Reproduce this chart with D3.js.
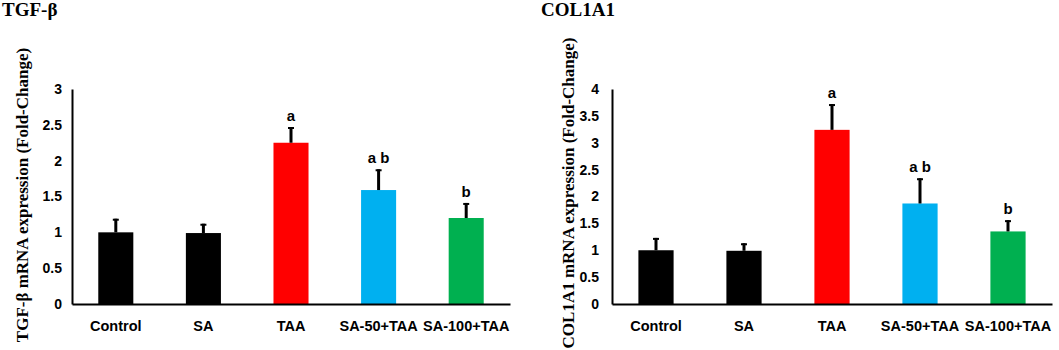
<!DOCTYPE html>
<html>
<head>
<meta charset="utf-8">
<script src="https://cdn.jsdelivr.net/npm/d3@7"></script>
<style>
  body { margin: 0; background: #fff; }
  svg { display: block; }
</style>
</head>
<body>
<script>
const width = 1059;
const height = 350;

const groups = ["Control", "SA", "TAA", "SA-50+TAA", "SA-100+TAA"];
const barColors = ["#000000", "#000000", "#ff0000", "#00b0f0", "#00b050"];
const sigLabels = ["", "", "a", "a b", "b"];

const tgfMean = [1.00, 0.99, 2.25, 1.59, 1.20];
const tgfErr  = [0.19, 0.13, 0.22, 0.29, 0.21];
const tgfTicks = [0, 0.5, 1, 1.5, 2, 2.5, 3];

const colMean = [1.00, 0.99, 3.24, 1.87, 1.35];
const colErr  = [0.23, 0.14, 0.48, 0.47, 0.21];
const colTicks = [0, 0.5, 1, 1.5, 2, 2.5, 3, 3.5, 4];

const svg = d3.select("body").append("svg")
    .attr("width", width)
    .attr("height", height);

function drawPanel(opts) {
    const g = svg.append("g");
    const x = d3.scaleBand()
        .domain(groups)
        .range([opts.x0, opts.x1])
        .paddingInner(0.6)
        .paddingOuter(0.3);
    const y = d3.scaleLinear()
        .domain([0, opts.max])
        .range([304, 89]);

    // title
    g.append("text")
        .attr("x", opts.titleX)
        .attr("y", 16)
        .attr("font-family", "'Liberation Serif', 'Times New Roman', serif")
        .attr("font-weight", "bold")
        .attr("font-size", 19)
        .text(opts.title);

    // y axis title
    g.append("text")
        .attr("transform", `translate(${opts.ylabX},${opts.ylabY}) rotate(-90)`)
        .attr("text-anchor", "middle")
        .attr("font-family", "'Liberation Serif', 'Times New Roman', serif")
        .attr("font-weight", "bold")
        .attr("font-size", 17)
        .text(opts.ylab);

    // bars
    const data = groups.map((d, i) => ({ name: d, v: opts.mean[i], e: opts.err[i], c: barColors[i], s: sigLabels[i] }));

    g.selectAll("rect.bar")
        .data(data)
        .join("rect")
        .attr("class", "bar")
        .attr("x", d => x(d.name))
        .attr("width", x.bandwidth())
        .attr("y", d => y(d.v))
        .attr("height", d => y(0) - y(d.v))
        .attr("fill", d => d.c);

    // error bars (upper only)
    g.selectAll("line.err")
        .data(data)
        .join("line")
        .attr("class", "err")
        .attr("x1", d => x(d.name) + x.bandwidth() / 2)
        .attr("x2", d => x(d.name) + x.bandwidth() / 2)
        .attr("y1", d => y(d.v))
        .attr("y2", d => y(d.v + d.e))
        .attr("stroke", "#000")
        .attr("stroke-width", 3);

    g.selectAll("line.cap")
        .data(data)
        .join("line")
        .attr("class", "cap")
        .attr("x1", d => x(d.name) + x.bandwidth() / 2 - 3)
        .attr("x2", d => x(d.name) + x.bandwidth() / 2 + 3)
        .attr("y1", d => y(d.v + d.e) + 1)
        .attr("y2", d => y(d.v + d.e) + 1)
        .attr("stroke", "#000")
        .attr("stroke-width", 2);

    // significance letters
    g.selectAll("text.sig")
        .data(data)
        .join("text")
        .attr("class", "sig")
        .attr("x", d => x(d.name) + x.bandwidth() / 2)
        .attr("y", d => y(d.v + d.e) - 6)
        .attr("text-anchor", "middle")
        .attr("font-family", "'Liberation Sans', Arial, sans-serif")
        .attr("font-weight", "bold")
        .attr("font-size", 15)
        .text(d => d.s);

    // y axis
    const yAxis = g.append("g")
        .attr("transform", `translate(${opts.x0},0)`)
        .call(d3.axisLeft(y).tickValues(opts.ticks).tickSize(0).tickPadding(opts.tickPad).tickFormat(d3.format("")));
    yAxis.select(".domain").attr("stroke", "#000").attr("stroke-width", 2);
    yAxis.selectAll("text")
        .attr("font-family", "'Liberation Sans', Arial, sans-serif")
        .attr("font-weight", "bold")
        .attr("font-size", 14)
        .attr("fill", "#000");

    // x axis
    const xAxis = g.append("g")
        .attr("transform", `translate(0,${y(0)})`)
        .call(d3.axisBottom(x).tickSize(0).tickPadding(17));
    xAxis.select(".domain").attr("stroke", "#000").attr("stroke-width", 2);
    xAxis.selectAll("text")
        .attr("font-family", "'Liberation Sans', Arial, sans-serif")
        .attr("font-weight", "bold")
        .attr("font-size", 14.5)
        .attr("fill", "#000");
}

drawPanel({
    title: "TGF-β", titleX: 2,
    ylab: "TGF-β mRNA expression (Fold-Change)", ylabX: 28, ylabY: 195,
    x0: 72, x1: 510, max: 3, ticks: tgfTicks, tickPad: 10,
    mean: tgfMean, err: tgfErr
});

drawPanel({
    title: "COL1A1", titleX: 541,
    ylab: "COL1A1 mRNA expression (Fold-Change)", ylabX: 574, ylabY: 193,
    x0: 612, x1: 1052, max: 4, ticks: colTicks, tickPad: 13,
    mean: colMean, err: colErr
});
</script>
</body>
</html>
